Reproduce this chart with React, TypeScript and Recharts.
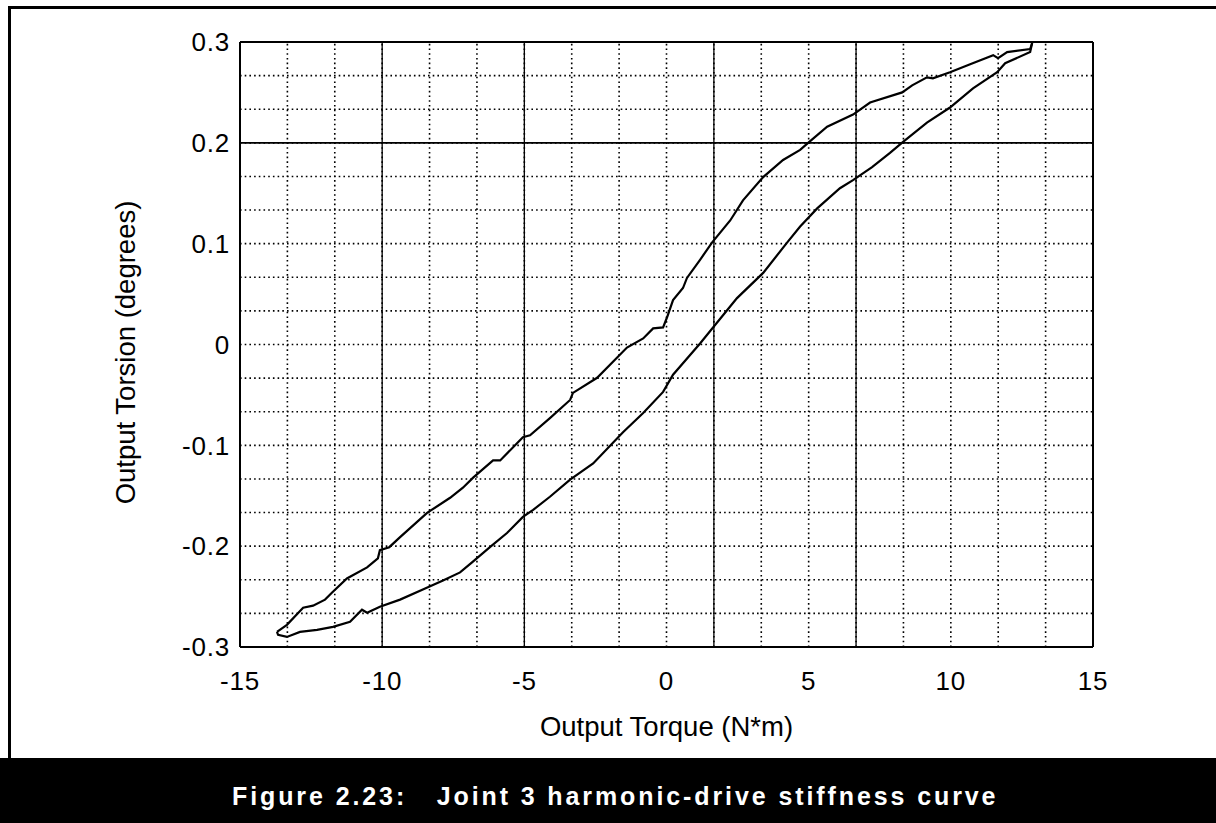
import { LineChart, Line, XAxis, YAxis, ReferenceLine, Label } from 'recharts';

// Loading branch (torque increasing), N*m vs degrees
const loadTorque = [
  -13.7, -13.35, -12.78, -12.43, -12.01, -11.76, -11.24, -10.53, -10.15, -10.08, -9.75, -9.37, -8.42, -7.61,
  -7.16, -6.8, -6.1, -5.85, -5.05, -4.8, -4.1, -3.39, -3.29, -2.44, -1.39, -0.82, -0.47, -0.12, 0.02, 0.23,
  0.58, 0.72, 1.18, 1.6, 2.24, 2.69, 3.4, 4.1, 4.7, 4.98, 5.65, 6.56, 7.16, 8.29, 8.64, 9.16, 9.37, 9.97,
  10.68, 11.49, 11.66, 11.98, 12.79, 12.86,
];
const loadTorsion = [
  -0.285, -0.278, -0.261, -0.259, -0.253, -0.246, -0.232, -0.221, -0.212, -0.204, -0.201, -0.191, -0.167, -0.152,
  -0.142, -0.132, -0.115, -0.115, -0.092, -0.09, -0.073, -0.055, -0.048, -0.033, -0.003, 0.006, 0.016, 0.017, 0.027, 0.044,
  0.056, 0.066, 0.084, 0.101, 0.123, 0.143, 0.166, 0.183, 0.193, 0.2, 0.216, 0.228, 0.24, 0.25, 0.257, 0.265, 0.264, 0.27,
  0.278, 0.287, 0.284, 0.29, 0.293, 0.299,
];

// Unloading branch (torque decreasing)
const unloadTorque = [
  12.86, 12.79, 11.91, 11.63, 10.78, 9.97, 9.16, 8.32, 7.86, 7.23, 6.56, 6.1, 5.3, 4.7, 4.24, 3.4, 2.48, 1.18,
  0.23, -0.12, -0.82, -1.53, -2.58, -3.39, -4.1, -4.69, -5.05, -5.61, -6.21, -6.84, -7.26, -7.86, -8.49, -9.37,
  -10.08, -10.53, -10.71, -11.13, -11.73, -12.29, -12.89, -13.35, -13.66, -13.7,
];
const unloadTorsion = [
  0.299, 0.29, 0.279, 0.27, 0.254, 0.235, 0.22, 0.201, 0.19, 0.176, 0.163, 0.155, 0.135, 0.117, 0.101, 0.071, 0.046, 0.001,
  -0.03, -0.047, -0.068, -0.087, -0.118, -0.134, -0.151, -0.164, -0.171, -0.187, -0.201, -0.216, -0.226, -0.234, -0.242, -0.253,
  -0.26, -0.266, -0.263, -0.275, -0.28, -0.283, -0.285, -0.29, -0.288, -0.285,
];

const xTicks = [-15, -10, -5, 0, 5, 10, 15];
const yTicks = [-0.3, -0.2, -0.1, 0, 0.1, 0.2, 0.3];

// solid rules that show through the dotted grid
const solidX = [-10, -5, 5 / 3, 20 / 3];
const solidY = [0.2];

const loadData = loadTorque.map((x, i) => ({ x, y: loadTorsion[i] }));
const unloadData = unloadTorque.map((x, i) => ({ x, y: unloadTorsion[i] }));

// dotted grid: 18 divisions each way (inner lines only)
const gridX = Array.from({ length: 17 }, (_, i) => -15 + ((i + 1) * 30) / 18);
const gridY = Array.from({ length: 17 }, (_, i) => -0.3 + ((i + 1) * 0.6) / 18);

const font = '"Liberation Sans", Arial, Helvetica, sans-serif';

const YTitle = (props: any) => {
  const { viewBox } = props;
  const cx = 135;
  const cy = viewBox.y + viewBox.height / 2 + 8;
  return (
    <text
      x={cx}
      y={cy}
      transform={`rotate(-90 ${cx} ${cy})`}
      textAnchor="middle"
      fontFamily={font}
      fontSize={27.5}
      fill="#000"
    >
      Output Torsion (degrees)
    </text>
  );
};

export default function App() {
  return (
    <div
      style={{
        position: 'absolute',
        left: 0,
        top: 0,
        width: 1216,
        height: 823,
        background: '#fff',
        overflow: 'hidden',
      }}
    >
      <div style={{ position: 'absolute', left: 8, top: 6, width: 1208, height: 3, background: '#000' }} />
      <div style={{ position: 'absolute', left: 8, top: 6, width: 3, height: 754, background: '#000' }} />

      <div style={{ position: 'absolute', left: 0, top: 0 }}>
        <LineChart width={1216} height={758} margin={{ top: 42, right: 123, bottom: 16, left: 140 }}>
          <XAxis
            dataKey="x"
            type="number"
            domain={[-15, 15]}
            ticks={xTicks}
            allowDataOverflow
            height={95}
            tickLine={false}
            tickMargin={19}
            axisLine={{ stroke: '#000', strokeWidth: 2 }}
            tick={{ fill: '#000', fontSize: 26, fontFamily: font, letterSpacing: 0.8 }}
          >
            <Label
              value="Output Torque (N*m)"
              position="insideBottom"
              offset={6}
              style={{ fill: '#000', fontSize: 27.5, fontFamily: font }}
            />
          </XAxis>
          <YAxis
            dataKey="y"
            type="number"
            domain={[-0.3, 0.3]}
            ticks={yTicks}
            allowDataOverflow
            width={100}
            tickLine={false}
            tickMargin={4}
            axisLine={{ stroke: '#000', strokeWidth: 2 }}
            tick={{ fill: '#000', fontSize: 26, fontFamily: font, letterSpacing: 0.8 }}
          >
            <Label content={YTitle} />
          </YAxis>
          {gridX.map((v) => (
            <ReferenceLine key={`gx${v}`} x={v} stroke="#000" strokeWidth={1.6} strokeDasharray="1.6 3.1" />
          ))}
          {gridY.map((v) => (
            <ReferenceLine key={`gy${v}`} y={v} stroke="#000" strokeWidth={1.6} strokeDasharray="1.6 3.1" />
          ))}
          {solidX.map((v) => (
            <ReferenceLine key={`sx${v}`} x={v} stroke="#000" strokeWidth={1.3} />
          ))}
          {solidY.map((v) => (
            <ReferenceLine key={`sy${v}`} y={v} stroke="#000" strokeWidth={1.6} />
          ))}
          <ReferenceLine y={0.3} stroke="#000" strokeWidth={2} />
          <ReferenceLine x={15} stroke="#000" strokeWidth={2} />
          <Line
            data={loadData}
            dataKey="y"
            type="linear"
            stroke="#000"
            strokeWidth={2.2}
            dot={false}
            isAnimationActive={false}
          />
          <Line
            data={unloadData}
            dataKey="y"
            type="linear"
            stroke="#000"
            strokeWidth={2.2}
            dot={false}
            isAnimationActive={false}
          />
        </LineChart>
      </div>

      <svg style={{ position: 'absolute', left: 0, top: 758 }} width={1216} height={65}>
        <rect x={0} y={0} width={1216} height={65} fill="#000" />
        <text
          x={232}
          y={47}
          fill="#fff"
          fontFamily={font}
          fontWeight="bold"
          fontSize={25}
          letterSpacing={2.9}
          style={{ whiteSpace: 'pre' }}
        >
          {'Figure 2.23:   Joint 3 harmonic-drive stiffness curve'}
        </text>
      </svg>
    </div>
  );
}
